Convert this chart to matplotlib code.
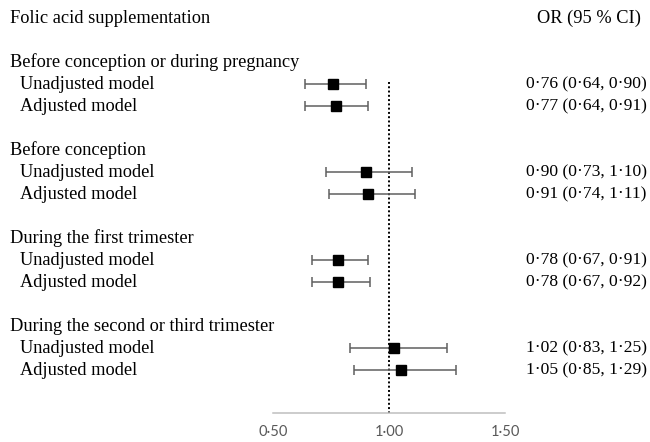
import matplotlib
matplotlib.use("Agg")
import matplotlib.pyplot as plt
import matplotlib.transforms as mtransforms

# data
groups = [
    "Before conception or during pregnancy",
    "Before conception",
    "During the first trimester",
    "During the second or third trimester",
]
models = ["Unadjusted model", "Adjusted model"]
or_values = [0.76, 0.77, 0.90, 0.91, 0.78, 0.78, 1.02, 1.05]
ci_low = [0.64, 0.64, 0.73, 0.74, 0.67, 0.67, 0.83, 0.85]
ci_high = [0.90, 0.91, 1.10, 1.11, 0.91, 0.92, 1.25, 1.29]
tick_values = [0.50, 1.00, 1.50]
ref_value = 1.00


def fmt(v):
    return f"{v:.2f}".replace(".", "\u00b7")


W, H = 650, 442
fig = plt.figure(figsize=(W / 100, H / 100), dpi=100)

# plot area: x from 0.5 to 1.5 spans pixels 273..505, bottom spine at y=413
row_h = 21.97
top_px = 18.5
ax_left, ax_right, ax_bottom = 273, 505, 413
ax = fig.add_axes([ax_left / W, 1 - ax_bottom / H, (ax_right - ax_left) / W, ax_bottom / H])
ax.set_xlim(0.5, 1.5)
n_rows_bottom = (ax_bottom - top_px) / row_h
ax.set_ylim(n_rows_bottom, -top_px / row_h)

serif = "Liberation Serif"
fs = 13.2
fs_val = 12.6
trans = mtransforms.blended_transform_factory(fig.transFigure, ax.transData)

# header row
ax.text(10 / W, 0, "Folic acid supplementation", transform=trans, family=serif,
        fontsize=fs, va="center", ha="left", clip_on=False)
ax.text(641 / W, 0, "OR (95 % CI)", transform=trans, family=serif,
        fontsize=fs, va="center", ha="right", clip_on=False)

rows = []
row = 2
for gi, g in enumerate(groups):
    ax.text(10 / W, row, g, transform=trans, family=serif, fontsize=fs,
            va="center", ha="left", clip_on=False)
    row += 1
    for mi, m in enumerate(models):
        k = gi * 2 + mi
        ax.text(20 / W, row, m, transform=trans, family=serif, fontsize=fs,
                va="center", ha="left", clip_on=False)
        label = f"{fmt(or_values[k])} ({fmt(ci_low[k])}, {fmt(ci_high[k])})"
        ax.text(526 / W, row, label, transform=trans, family=serif, fontsize=fs_val,
                va="center", ha="left", clip_on=False)
        rows.append(row)
        row += 1
    row += 1

# reference line at OR = 1
ax.vlines(ref_value, rows[0] - 0.1, n_rows_bottom, colors="black",
          linestyles=(0, (1, 1.2)), linewidth=1.4, zorder=1)

xerr = [[o - lo for o, lo in zip(or_values, ci_low)],
        [hi - o for o, hi in zip(or_values, ci_high)]]
ax.errorbar(or_values, rows, xerr=xerr, fmt="s", color="black", markersize=6.8,
            ecolor="#5f5f5f", elinewidth=1.1, capsize=3.6, capthick=1.1, zorder=3)

for s in ["top", "left", "right"]:
    ax.spines[s].set_visible(False)
ax.spines["bottom"].set_color("#bfbfbf")
ax.spines["bottom"].set_linewidth(1.1)
ax.set_yticks([])
ax.set_xticks(tick_values)
ax.set_xticklabels([fmt(t) for t in tick_values], family="Lato", fontsize=10.5,
                   color="#595959")
ax.tick_params(axis="x", length=0, pad=9)
ax.patch.set_visible(False)

fig.savefig("out.png", dpi=100)
